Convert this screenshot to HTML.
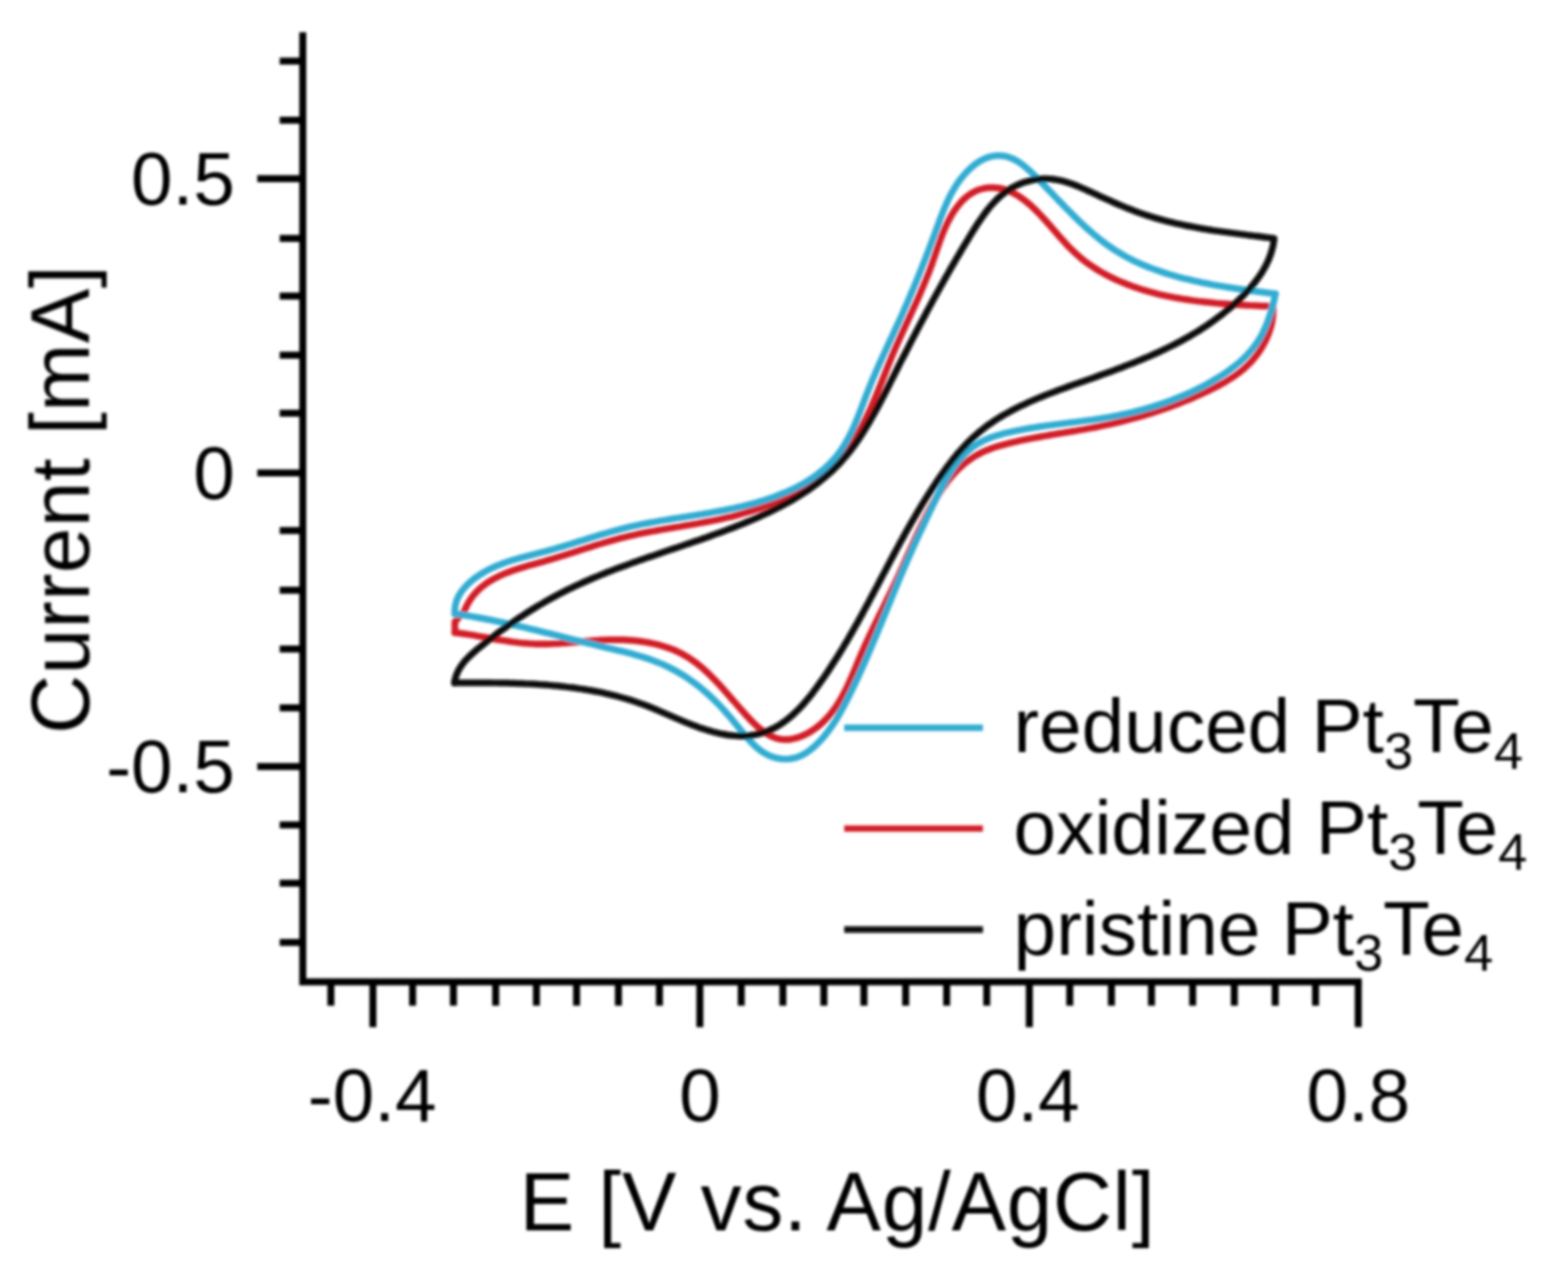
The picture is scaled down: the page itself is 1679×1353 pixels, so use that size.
<!DOCTYPE html>
<html><head><meta charset="utf-8"><title>Cyclic voltammetry Pt3Te4</title>
<style>html,body{margin:0;padding:0;background:#fff;width:1679px;height:1353px;overflow:hidden}svg{display:block}</style>
</head><body>
<svg width="1679" height="1353" viewBox="0 0 1679 1353">
<defs><filter id="bl" filterUnits="userSpaceOnUse" x="0" y="0" width="1679" height="1353"><feGaussianBlur stdDeviation="1.4"/></filter></defs>
<rect width="1679" height="1353" fill="#fff"/>
<g filter="url(#bl)">
<g fill="none" stroke-linejoin="round" stroke-linecap="round" stroke-width="7.2">
<path d="M497.1,654.3 L498.7,650.6 L500.4,647.1 L502.4,643.7 L504.4,640.6 L506.6,637.6 L509.0,634.9 L511.5,632.2 L514.1,629.8 L516.8,627.5 L519.7,625.3 L522.6,623.3 L525.7,621.4 L528.8,619.6 L532.0,617.9 L535.3,616.3 L538.7,614.8 L542.1,613.3 L545.7,612.0 L549.2,610.7 L552.8,609.5 L556.4,608.3 L560.1,607.2 L563.8,606.1 L567.5,605.1 L571.3,604.0 L575.0,603.0 L578.7,601.9 L582.4,600.9 L586.1,599.8 L589.8,598.7 L593.5,597.6 L597.2,596.5 L600.8,595.4 L604.4,594.3 L608.1,593.1 L611.7,592.0 L615.3,590.8 L618.9,589.7 L622.4,588.5 L626.0,587.4 L629.6,586.3 L633.2,585.2 L636.7,584.0 L640.3,582.9 L643.9,581.9 L647.4,580.8 L651.0,579.8 L654.6,578.7 L658.2,577.7 L661.8,576.8 L665.4,575.8 L669.0,574.9 L672.6,574.1 L676.2,573.2 L679.8,572.4 L683.5,571.6 L687.1,570.9 L690.8,570.1 L694.5,569.4 L698.1,568.7 L701.8,568.1 L705.5,567.4 L709.2,566.8 L712.9,566.1 L716.6,565.5 L720.3,564.9 L724.0,564.3 L727.7,563.7 L731.4,563.0 L735.2,562.4 L738.9,561.8 L742.6,561.1 L746.3,560.5 L750.0,559.8 L753.7,559.1 L757.4,558.4 L761.2,557.7 L764.9,557.0 L768.6,556.2 L772.3,555.4 L776.0,554.6 L779.7,553.7 L783.3,552.9 L787.0,551.9 L790.7,551.0 L794.4,549.9 L798.0,548.9 L801.7,547.8 L805.3,546.7 L808.9,545.5 L812.5,544.3 L816.1,543.0 L819.7,541.7 L823.2,540.3 L826.7,538.9 L830.2,537.5 L833.7,536.0 L837.2,534.4 L840.6,532.8 L844.0,531.2 L847.3,529.5 L850.6,527.7 L853.9,525.9 L857.2,524.1 L860.4,522.1 L863.5,520.2 L866.6,518.2 L869.7,516.1 L872.7,514.0 L875.7,511.8 L878.7,509.5 L881.5,507.2 L884.4,504.9 L887.1,502.5 L889.8,500.0 L892.5,497.5 L895.1,494.9 L897.6,492.2 L900.1,489.5 L902.5,486.7 L904.8,483.9 L907.1,481.0 L909.3,478.0 L911.4,475.0 L913.5,471.9 L915.5,468.8 L917.5,465.6 L919.4,462.4 L921.3,459.1 L923.1,455.8 L924.8,452.4 L926.5,449.0 L928.2,445.6 L929.9,442.2 L931.5,438.7 L933.1,435.2 L934.6,431.7 L936.1,428.1 L937.6,424.6 L939.1,421.0 L940.6,417.4 L942.0,413.8 L943.5,410.2 L944.9,406.7 L946.3,403.1 L947.8,399.5 L949.2,395.9 L950.6,392.3 L952.0,388.8 L953.5,385.2 L954.9,381.7 L956.4,378.2 L957.9,374.8 L959.3,371.3 L960.9,367.9 L962.4,364.5 L963.9,361.1 L965.4,357.7 L967.0,354.3 L968.5,351.0 L970.0,347.6 L971.6,344.3 L973.1,340.9 L974.7,337.6 L976.2,334.2 L977.7,330.9 L979.3,327.6 L980.8,324.2 L982.3,320.9 L983.8,317.5 L985.3,314.1 L986.7,310.7 L988.2,307.3 L989.6,303.9 L991.0,300.5 L992.4,297.0 L993.8,293.6 L995.2,290.1 L996.5,286.5 L997.8,283.0 L999.0,279.4 L1000.3,275.8 L1001.5,272.1 L1002.8,268.5 L1004.0,264.9 L1005.3,261.2 L1006.6,257.6 L1007.9,254.0 L1009.3,250.4 L1010.7,246.9 L1012.2,243.4 L1013.8,239.9 L1015.5,236.5 L1017.3,233.2 L1019.1,229.9 L1021.1,226.7 L1023.3,223.6 L1025.5,220.6 L1027.9,217.7 L1030.4,214.9 L1033.1,212.3 L1036.0,209.9 L1038.9,207.8 L1042.1,205.9 L1045.4,204.2 L1048.9,202.9 L1052.5,201.9 L1056.2,201.2 L1060.0,200.9 L1063.7,200.8 L1067.4,201.1 L1071.1,201.6 L1074.6,202.5 L1078.1,203.6 L1081.5,204.9 L1084.8,206.5 L1088.1,208.3 L1091.3,210.3 L1094.4,212.4 L1097.4,214.7 L1100.4,217.1 L1103.3,219.6 L1106.2,222.2 L1108.9,224.9 L1111.7,227.6 L1114.3,230.4 L1116.9,233.2 L1119.5,236.0 L1122.0,238.8 L1124.5,241.7 L1127.0,244.6 L1129.5,247.4 L1132.0,250.3 L1134.4,253.1 L1136.9,255.9 L1139.4,258.7 L1142.0,261.5 L1144.5,264.2 L1147.1,266.8 L1149.8,269.4 L1152.5,271.9 L1155.3,274.4 L1158.1,276.8 L1161.0,279.1 L1164.0,281.3 L1167.0,283.5 L1170.1,285.6 L1173.3,287.6 L1176.4,289.6 L1179.7,291.5 L1182.9,293.3 L1186.3,295.1 L1189.6,296.8 L1193.0,298.4 L1196.4,300.0 L1199.9,301.5 L1203.4,302.9 L1206.9,304.3 L1210.4,305.7 L1213.9,307.0 L1217.5,308.2 L1221.0,309.4 L1224.6,310.5 L1228.2,311.5 L1231.9,312.6 L1235.5,313.5 L1239.1,314.5 L1242.8,315.4 L1246.4,316.2 L1250.1,317.0 L1253.8,317.7 L1257.5,318.5 L1261.2,319.1 L1264.9,319.8 L1268.6,320.4 L1272.4,320.9 L1276.1,321.5 L1279.8,322.0 L1283.6,322.5 L1287.3,322.9 L1291.1,323.3 L1294.9,323.7 L1298.6,324.1 L1302.4,324.5 L1306.1,324.8 L1309.9,325.1 L1313.7,325.4 L1317.4,325.7 L1321.2,325.9 L1324.9,326.2 L1328.7,326.4 L1332.5,326.6 L1336.2,326.8 L1340.0,327.0 L1343.7,327.2 L1347.4,327.4 L1351.2,327.6 L1354.9,327.7 L1358.6,327.9" stroke="#d21e27"/>
<path d="M1362.9,327.5 L1363.2,331.1 L1363.1,334.8 L1362.9,338.5 L1362.4,342.2 L1361.7,346.0 L1360.8,349.8 L1359.6,353.5 L1358.3,357.3 L1356.8,360.9 L1355.2,364.6 L1353.3,368.1 L1351.3,371.6 L1349.2,375.0 L1347.0,378.3 L1344.6,381.4 L1342.1,384.4 L1339.6,387.3 L1336.9,390.1 L1334.1,392.7 L1331.3,395.2 L1328.4,397.6 L1325.4,399.9 L1322.3,402.1 L1319.1,404.3 L1315.9,406.3 L1312.7,408.3 L1309.4,410.2 L1306.1,412.0 L1302.7,413.8 L1299.3,415.6 L1295.9,417.3 L1292.4,419.0 L1288.9,420.6 L1285.4,422.2 L1281.9,423.8 L1278.4,425.3 L1274.9,426.9 L1271.3,428.3 L1267.7,429.8 L1264.2,431.2 L1260.6,432.6 L1256.9,434.0 L1253.3,435.3 L1249.7,436.6 L1246.0,437.9 L1242.4,439.1 L1238.7,440.4 L1235.0,441.6 L1231.3,442.7 L1227.6,443.8 L1223.9,445.0 L1220.2,446.0 L1216.5,447.1 L1212.7,448.1 L1209.0,449.1 L1205.2,450.1 L1201.5,451.0 L1197.7,451.9 L1194.0,452.8 L1190.2,453.7 L1186.4,454.5 L1182.6,455.3 L1178.9,456.1 L1175.1,456.9 L1171.3,457.6 L1167.5,458.3 L1163.8,459.0 L1160.0,459.7 L1156.2,460.3 L1152.4,461.0 L1148.6,461.6 L1144.8,462.3 L1141.1,462.9 L1137.3,463.5 L1133.5,464.1 L1129.7,464.8 L1125.9,465.4 L1122.1,466.1 L1118.3,466.7 L1114.6,467.4 L1110.8,468.1 L1107.0,468.8 L1103.2,469.5 L1099.4,470.2 L1095.6,471.0 L1091.8,471.8 L1088.1,472.7 L1084.3,473.5 L1080.5,474.5 L1076.7,475.4 L1073.0,476.4 L1069.2,477.5 L1065.5,478.7 L1061.9,479.9 L1058.3,481.3 L1054.8,482.7 L1051.3,484.3 L1048.0,486.0 L1044.7,487.8 L1041.5,489.8 L1038.4,491.9 L1035.4,494.2 L1032.4,496.5 L1029.6,499.0 L1026.8,501.5 L1024.1,504.2 L1021.5,507.0 L1019.0,509.9 L1016.5,512.8 L1014.1,515.9 L1011.8,519.0 L1009.5,522.1 L1007.3,525.4 L1005.1,528.7 L1003.0,532.0 L1001.0,535.4 L999.0,538.8 L997.0,542.3 L995.1,545.7 L993.3,549.2 L991.4,552.7 L989.7,556.3 L987.9,559.8 L986.2,563.3 L984.5,566.8 L982.8,570.3 L981.2,573.8 L979.6,577.3 L978.0,580.8 L976.4,584.4 L974.8,587.9 L973.3,591.3 L971.7,594.8 L970.1,598.3 L968.6,601.8 L967.0,605.3 L965.5,608.8 L963.9,612.2 L962.4,615.7 L960.8,619.1 L959.2,622.6 L957.5,626.0 L955.9,629.5 L954.3,632.9 L952.6,636.3 L950.9,639.8 L949.2,643.2 L947.6,646.6 L945.9,650.1 L944.2,653.5 L942.5,656.9 L940.8,660.4 L939.1,663.8 L937.4,667.3 L935.7,670.8 L934.0,674.3 L932.4,677.7 L930.7,681.2 L929.1,684.8 L927.4,688.3 L925.8,691.8 L924.3,695.4 L922.7,699.0 L921.2,702.6 L919.6,706.2 L918.1,709.8 L916.6,713.5 L915.1,717.1 L913.6,720.7 L912.0,724.3 L910.5,727.9 L908.8,731.5 L907.2,735.0 L905.5,738.5 L903.7,742.0 L901.9,745.4 L900.0,748.7 L898.0,752.0 L895.9,755.3 L893.8,758.4 L891.5,761.5 L889.1,764.5 L886.6,767.4 L883.9,770.2 L881.2,773.0 L878.3,775.6 L875.2,778.1 L872.0,780.4 L868.7,782.6 L865.4,784.6 L862.0,786.4 L858.5,787.9 L854.9,789.3 L851.4,790.3 L847.8,791.1 L844.3,791.6 L840.8,791.7 L837.3,791.5 L833.8,790.9 L830.5,790.0 L827.2,788.7 L823.9,787.1 L820.8,785.2 L817.7,783.1 L814.6,780.7 L811.6,778.2 L808.6,775.5 L805.7,772.7 L802.9,769.7 L800.1,766.7 L797.3,763.7 L794.6,760.6 L791.9,757.6 L789.2,754.5 L786.6,751.5 L783.9,748.5 L781.3,745.5 L778.8,742.5 L776.2,739.6 L773.6,736.6 L771.0,733.8 L768.4,730.9 L765.8,728.2 L763.1,725.4 L760.4,722.7 L757.7,720.1 L755.0,717.6 L752.2,715.1 L749.3,712.7 L746.4,710.4 L743.5,708.2 L740.5,706.1 L737.4,704.0 L734.2,702.1 L731.0,700.3 L727.6,698.5 L724.2,696.9 L720.7,695.4 L717.1,694.0 L713.5,692.8 L709.8,691.6 L706.0,690.5 L702.2,689.5 L698.4,688.7 L694.5,687.9 L690.6,687.2 L686.7,686.6 L682.7,686.1 L678.8,685.7 L674.8,685.3 L670.9,685.1 L667.0,684.9 L663.1,684.8 L659.2,684.8 L655.3,684.8 L651.4,684.9 L647.6,685.1 L643.7,685.2 L639.9,685.5 L636.1,685.7 L632.3,686.0 L628.4,686.3 L624.6,686.7 L620.8,687.0 L617.1,687.3 L613.3,687.6 L609.5,688.0 L605.7,688.3 L601.9,688.5 L598.1,688.8 L594.3,689.0 L590.5,689.2 L586.7,689.3 L582.9,689.4 L579.1,689.4 L575.2,689.3 L571.4,689.2 L567.6,689.0 L563.7,688.7 L559.9,688.4 L556.0,688.0 L552.1,687.5 L548.2,687.0 L544.4,686.4 L540.5,685.8 L536.6,685.2 L532.7,684.6 L528.9,683.9 L525.0,683.2 L521.2,682.5 L517.3,681.8 L513.5,681.2 L509.7,680.5 L505.9,679.8 L502.1,679.2 L498.3,678.6 L494.5,678.1 L490.8,677.6 L487.1,677.1" stroke="#d21e27"/>
<path d="M487.1,677.1 L487.1,665.7 L497.1,654.3" stroke="#d21e27"/>
<path d="M487.1,657.1 L487.0,653.0 L487.4,649.1 L488.2,645.4 L489.4,641.7 L491.0,638.2 L493.0,634.9 L495.2,631.7 L497.7,628.7 L500.5,625.8 L503.4,623.0 L506.5,620.4 L509.7,618.0 L513.1,615.7 L516.4,613.6 L519.8,611.6 L523.3,609.7 L526.8,608.0 L530.4,606.4 L534.0,604.9 L537.6,603.5 L541.3,602.2 L545.0,600.9 L548.7,599.7 L552.4,598.6 L556.2,597.5 L560.0,596.5 L563.8,595.5 L567.6,594.5 L571.4,593.5 L575.2,592.6 L579.0,591.6 L582.9,590.6 L586.7,589.5 L590.5,588.5 L594.3,587.4 L598.1,586.3 L601.9,585.2 L605.7,584.0 L609.5,582.9 L613.3,581.7 L617.1,580.5 L620.9,579.3 L624.7,578.2 L628.5,577.0 L632.3,575.8 L636.0,574.6 L639.8,573.5 L643.6,572.3 L647.4,571.2 L651.2,570.1 L655.0,569.0 L658.8,568.0 L662.6,567.0 L666.4,566.0 L670.2,565.0 L674.0,564.1 L677.8,563.3 L681.7,562.4 L685.5,561.6 L689.3,560.8 L693.2,560.1 L697.0,559.4 L700.8,558.7 L704.7,558.0 L708.5,557.3 L712.4,556.7 L716.2,556.1 L720.1,555.4 L724.0,554.8 L727.8,554.2 L731.7,553.6 L735.6,553.0 L739.4,552.4 L743.3,551.8 L747.2,551.1 L751.1,550.5 L754.9,549.9 L758.8,549.2 L762.7,548.5 L766.6,547.8 L770.5,547.1 L774.4,546.4 L778.3,545.6 L782.2,544.8 L786.1,544.0 L790.0,543.1 L793.9,542.2 L797.8,541.2 L801.7,540.3 L805.5,539.2 L809.4,538.2 L813.3,537.0 L817.1,535.9 L820.9,534.7 L824.7,533.4 L828.5,532.1 L832.2,530.7 L835.9,529.2 L839.6,527.7 L843.2,526.2 L846.8,524.5 L850.3,522.9 L853.8,521.1 L857.3,519.3 L860.7,517.4 L864.0,515.4 L867.2,513.3 L870.4,511.2 L873.6,509.0 L876.6,506.7 L879.6,504.3 L882.5,501.9 L885.3,499.3 L888.1,496.7 L890.7,494.0 L893.3,491.2 L895.8,488.2 L898.1,485.2 L900.4,482.1 L902.6,478.9 L904.6,475.6 L906.6,472.2 L908.5,468.8 L910.3,465.2 L912.1,461.6 L913.8,457.9 L915.4,454.2 L917.0,450.5 L918.5,446.7 L920.0,442.9 L921.5,439.1 L923.0,435.2 L924.4,431.4 L925.9,427.6 L927.3,423.8 L928.8,420.0 L930.3,416.3 L931.8,412.5 L933.3,408.9 L934.8,405.2 L936.4,401.6 L937.9,398.0 L939.5,394.4 L941.1,390.8 L942.7,387.2 L944.3,383.7 L945.9,380.2 L947.5,376.6 L949.2,373.1 L950.8,369.6 L952.4,366.1 L954.0,362.6 L955.7,359.1 L957.3,355.6 L958.9,352.1 L960.5,348.6 L962.2,345.1 L963.8,341.5 L965.4,338.0 L967.0,334.4 L968.5,330.8 L970.1,327.2 L971.7,323.6 L973.2,320.0 L974.8,316.4 L976.3,312.7 L977.9,309.1 L979.4,305.4 L980.9,301.8 L982.4,298.1 L983.9,294.4 L985.4,290.7 L986.9,287.0 L988.3,283.3 L989.8,279.6 L991.2,275.9 L992.7,272.2 L994.1,268.5 L995.5,264.8 L996.9,261.0 L998.3,257.3 L999.7,253.6 L1001.1,249.9 L1002.4,246.1 L1003.8,242.4 L1005.2,238.7 L1006.5,235.0 L1007.9,231.3 L1009.4,227.7 L1010.8,224.0 L1012.4,220.4 L1013.9,216.9 L1015.6,213.3 L1017.3,209.8 L1019.1,206.4 L1021.1,203.0 L1023.1,199.7 L1025.2,196.4 L1027.5,193.2 L1029.9,190.0 L1032.5,187.0 L1035.2,184.0 L1038.1,181.1 L1041.1,178.4 L1044.3,175.8 L1047.6,173.5 L1051.0,171.4 L1054.6,169.7 L1058.4,168.3 L1062.2,167.3 L1066.1,166.7 L1069.9,166.5 L1073.7,166.8 L1077.3,167.4 L1080.8,168.5 L1084.2,169.8 L1087.5,171.5 L1090.8,173.4 L1093.9,175.6 L1097.0,178.0 L1100.0,180.6 L1103.0,183.2 L1105.9,186.0 L1108.8,188.9 L1111.7,191.8 L1114.5,194.7 L1117.3,197.6 L1120.1,200.5 L1122.9,203.4 L1125.7,206.3 L1128.5,209.2 L1131.2,212.1 L1134.0,215.0 L1136.8,217.8 L1139.5,220.7 L1142.3,223.5 L1145.1,226.3 L1147.8,229.1 L1150.6,231.9 L1153.4,234.6 L1156.2,237.4 L1159.1,240.0 L1161.9,242.7 L1164.8,245.3 L1167.7,247.8 L1170.7,250.4 L1173.6,252.8 L1176.6,255.3 L1179.6,257.7 L1182.7,260.0 L1185.8,262.3 L1189.0,264.5 L1192.1,266.6 L1195.4,268.7 L1198.7,270.7 L1202.0,272.7 L1205.4,274.6 L1208.8,276.4 L1212.3,278.2 L1215.8,279.9 L1219.3,281.5 L1222.9,283.1 L1226.6,284.6 L1230.2,286.1 L1233.9,287.5 L1237.7,288.9 L1241.4,290.2 L1245.2,291.5 L1249.0,292.7 L1252.8,293.9 L1256.7,295.0 L1260.5,296.1 L1264.4,297.2 L1268.3,298.2 L1272.3,299.1 L1276.2,300.1 L1280.1,301.0 L1284.1,301.8 L1288.0,302.7 L1292.0,303.4 L1296.0,304.2 L1299.9,305.0 L1303.9,305.7 L1307.8,306.3 L1311.8,307.0 L1315.7,307.6 L1319.7,308.3 L1323.6,308.9 L1327.5,309.4 L1331.5,310.0 L1335.3,310.5 L1339.2,311.1 L1343.1,311.6 L1346.9,312.1 L1350.7,312.6 L1354.5,313.1 L1358.3,313.6 L1362.0,314.0 L1365.7,314.5" stroke="#33acd2"/>
<path d="M1365.7,314.5 L1364.9,318.2 L1364.1,322.0 L1363.1,325.8 L1362.1,329.7 L1361.0,333.6 L1359.7,337.6 L1358.4,341.4 L1357.0,345.3 L1355.4,349.1 L1353.8,352.9 L1352.0,356.6 L1350.1,360.1 L1348.1,363.6 L1345.9,366.9 L1343.6,370.1 L1341.2,373.2 L1338.7,376.2 L1336.1,379.1 L1333.5,381.9 L1330.7,384.6 L1327.8,387.2 L1324.8,389.7 L1321.8,392.2 L1318.7,394.5 L1315.6,396.8 L1312.4,399.1 L1309.1,401.2 L1305.8,403.3 L1302.4,405.4 L1299.1,407.4 L1295.6,409.4 L1292.2,411.3 L1288.7,413.2 L1285.2,415.0 L1281.6,416.8 L1278.0,418.5 L1274.4,420.2 L1270.8,421.8 L1267.1,423.4 L1263.4,424.9 L1259.7,426.4 L1256.0,427.9 L1252.2,429.3 L1248.5,430.6 L1244.7,432.0 L1240.9,433.2 L1237.0,434.5 L1233.2,435.7 L1229.4,436.8 L1225.5,437.9 L1221.6,439.0 L1217.7,440.0 L1213.9,441.0 L1210.0,441.9 L1206.1,442.8 L1202.2,443.6 L1198.3,444.5 L1194.3,445.2 L1190.4,446.0 L1186.5,446.7 L1182.6,447.3 L1178.7,448.0 L1174.8,448.6 L1170.9,449.2 L1167.0,449.7 L1163.1,450.2 L1159.2,450.8 L1155.3,451.3 L1151.4,451.8 L1147.5,452.2 L1143.6,452.7 L1139.7,453.2 L1135.8,453.7 L1131.9,454.2 L1128.0,454.7 L1124.1,455.2 L1120.2,455.7 L1116.3,456.3 L1112.3,456.9 L1108.4,457.5 L1104.5,458.1 L1100.6,458.8 L1096.6,459.5 L1092.7,460.2 L1088.8,461.0 L1084.8,461.8 L1080.9,462.7 L1076.9,463.6 L1073.0,464.6 L1069.1,465.7 L1065.3,466.9 L1061.5,468.2 L1057.8,469.7 L1054.2,471.2 L1050.7,472.9 L1047.4,474.8 L1044.1,476.9 L1041.0,479.1 L1038.0,481.5 L1035.1,484.0 L1032.4,486.7 L1029.7,489.5 L1027.1,492.4 L1024.7,495.5 L1022.3,498.7 L1020.0,501.9 L1017.8,505.3 L1015.7,508.7 L1013.6,512.2 L1011.6,515.7 L1009.6,519.3 L1007.7,522.9 L1005.8,526.6 L1004.0,530.3 L1002.2,534.0 L1000.4,537.7 L998.6,541.3 L996.9,545.0 L995.1,548.6 L993.4,552.3 L991.7,555.9 L990.0,559.5 L988.3,563.1 L986.6,566.7 L984.9,570.3 L983.3,573.8 L981.6,577.4 L980.0,581.0 L978.4,584.5 L976.8,588.1 L975.2,591.7 L973.6,595.3 L972.0,598.9 L970.4,602.5 L968.9,606.1 L967.3,609.7 L965.8,613.3 L964.2,616.9 L962.7,620.5 L961.2,624.2 L959.7,627.8 L958.2,631.4 L956.7,635.1 L955.2,638.7 L953.7,642.4 L952.2,646.1 L950.7,649.7 L949.2,653.4 L947.7,657.0 L946.2,660.7 L944.7,664.4 L943.2,668.1 L941.6,671.7 L940.1,675.4 L938.6,679.1 L937.1,682.7 L935.5,686.4 L934.0,690.1 L932.4,693.7 L930.9,697.4 L929.3,701.1 L927.7,704.7 L926.1,708.4 L924.5,712.0 L922.9,715.7 L921.2,719.3 L919.6,723.0 L917.9,726.6 L916.2,730.2 L914.5,733.8 L912.8,737.5 L911.0,741.1 L909.2,744.7 L907.4,748.3 L905.6,751.8 L903.8,755.4 L901.9,758.9 L899.9,762.4 L897.9,765.9 L895.9,769.4 L893.7,772.7 L891.5,776.1 L889.2,779.4 L886.9,782.6 L884.4,785.8 L881.9,788.9 L879.2,791.9 L876.4,794.9 L873.5,797.7 L870.5,800.4 L867.4,802.9 L864.2,805.2 L860.9,807.3 L857.5,809.0 L854.0,810.4 L850.3,811.4 L846.7,812.1 L843.0,812.5 L839.3,812.5 L835.6,812.1 L831.9,811.5 L828.3,810.5 L824.8,809.3 L821.4,807.7 L818.1,805.9 L815.0,803.8 L811.9,801.4 L809.0,798.9 L806.1,796.1 L803.2,793.2 L800.5,790.2 L797.8,787.1 L795.1,783.9 L792.4,780.6 L789.8,777.3 L787.1,774.1 L784.4,770.8 L781.8,767.6 L779.0,764.5 L776.3,761.4 L773.6,758.4 L770.8,755.4 L768.0,752.5 L765.1,749.7 L762.2,746.9 L759.3,744.2 L756.4,741.5 L753.4,739.0 L750.4,736.4 L747.4,734.0 L744.3,731.6 L741.1,729.3 L738.0,727.1 L734.8,724.9 L731.5,722.8 L728.2,720.8 L724.9,718.8 L721.5,717.0 L718.1,715.2 L714.6,713.5 L711.1,711.8 L707.5,710.3 L703.9,708.8 L700.2,707.4 L696.5,706.0 L692.8,704.7 L689.0,703.5 L685.2,702.4 L681.3,701.2 L677.5,700.1 L673.6,699.1 L669.7,698.1 L665.7,697.1 L661.8,696.2 L657.9,695.2 L653.9,694.3 L650.0,693.4 L646.0,692.4 L642.1,691.5 L638.2,690.6 L634.3,689.6 L630.4,688.7 L626.5,687.8 L622.6,686.8 L618.7,685.8 L614.9,684.9 L611.0,683.9 L607.2,683.0 L603.3,682.0 L599.5,681.0 L595.7,680.1 L591.8,679.1 L588.0,678.1 L584.2,677.2 L580.4,676.2 L576.5,675.3 L572.7,674.3 L568.9,673.4 L565.1,672.5 L561.2,671.6 L557.4,670.7 L553.6,669.8 L549.7,668.9 L545.9,668.0 L542.0,667.2 L538.2,666.3 L534.3,665.5 L530.4,664.7 L526.5,663.9 L522.7,663.1 L518.8,662.4 L514.8,661.6 L510.9,660.9 L507.0,660.2 L503.0,659.5 L499.1,658.9 L495.1,658.3 L491.1,657.7 L487.1,657.1" stroke="#33acd2"/>
<path d="M486.6,730.9 L487.3,727.0 L488.4,723.4 L489.8,719.9 L491.4,716.7 L493.3,713.6 L495.4,710.6 L497.6,707.8 L500.1,705.1 L502.7,702.5 L505.4,700.0 L508.2,697.5 L511.0,695.1 L513.9,692.7 L516.8,690.4 L519.8,688.0 L522.7,685.6 L525.7,683.3 L528.7,681.0 L531.7,678.7 L534.7,676.4 L537.7,674.2 L540.8,672.0 L543.9,669.7 L547.0,667.6 L550.1,665.4 L553.2,663.2 L556.4,661.1 L559.6,659.0 L562.7,656.9 L565.9,654.9 L569.1,652.9 L572.4,650.9 L575.6,648.9 L578.9,647.0 L582.1,645.1 L585.4,643.2 L588.7,641.3 L592.0,639.5 L595.4,637.7 L598.7,635.9 L602.0,634.2 L605.4,632.5 L608.8,630.8 L612.2,629.2 L615.6,627.6 L619.0,626.0 L622.4,624.4 L625.8,622.9 L629.2,621.4 L632.7,619.9 L636.1,618.4 L639.6,617.0 L643.1,615.5 L646.6,614.1 L650.0,612.7 L653.5,611.4 L657.0,610.0 L660.5,608.7 L664.0,607.4 L667.6,606.1 L671.1,604.8 L674.6,603.5 L678.2,602.2 L681.7,601.0 L685.2,599.7 L688.8,598.5 L692.3,597.2 L695.9,596.0 L699.5,594.8 L703.0,593.6 L706.6,592.3 L710.1,591.1 L713.7,589.9 L717.3,588.7 L720.8,587.5 L724.4,586.3 L728.0,585.1 L731.6,583.9 L735.1,582.7 L738.7,581.5 L742.3,580.2 L745.8,579.0 L749.4,577.8 L753.0,576.5 L756.5,575.3 L760.1,574.0 L763.6,572.7 L767.2,571.4 L770.8,570.1 L774.3,568.8 L777.8,567.5 L781.4,566.1 L784.9,564.8 L788.4,563.4 L792.0,562.0 L795.5,560.6 L799.0,559.1 L802.5,557.7 L806.0,556.2 L809.5,554.7 L812.9,553.2 L816.4,551.6 L819.8,550.0 L823.2,548.4 L826.6,546.8 L830.0,545.1 L833.4,543.4 L836.7,541.7 L840.0,539.9 L843.3,538.1 L846.6,536.3 L849.8,534.4 L853.0,532.5 L856.2,530.5 L859.3,528.5 L862.4,526.5 L865.5,524.4 L868.5,522.3 L871.5,520.1 L874.5,517.9 L877.4,515.6 L880.3,513.3 L883.1,511.0 L885.9,508.6 L888.7,506.1 L891.4,503.6 L894.0,501.0 L896.6,498.4 L899.2,495.7 L901.7,493.0 L904.1,490.2 L906.5,487.4 L908.9,484.5 L911.2,481.5 L913.4,478.5 L915.7,475.5 L917.8,472.4 L920.0,469.3 L922.1,466.1 L924.1,462.9 L926.1,459.7 L928.1,456.4 L930.1,453.1 L932.0,449.8 L933.9,446.5 L935.8,443.1 L937.7,439.8 L939.5,436.4 L941.3,433.0 L943.1,429.5 L944.9,426.1 L946.7,422.7 L948.4,419.3 L950.2,415.8 L951.9,412.4 L953.6,409.0 L955.3,405.5 L957.1,402.1 L958.8,398.7 L960.5,395.3 L962.2,391.9 L963.9,388.5 L965.6,385.2 L967.4,381.8 L969.1,378.5 L970.8,375.1 L972.5,371.8 L974.2,368.4 L975.9,365.1 L977.6,361.8 L979.4,358.5 L981.1,355.2 L982.8,351.9 L984.5,348.6 L986.3,345.3 L988.0,342.0 L989.8,338.7 L991.5,335.5 L993.2,332.2 L995.0,328.9 L996.8,325.7 L998.5,322.4 L1000.3,319.1 L1002.1,315.9 L1003.9,312.6 L1005.7,309.4 L1007.5,306.1 L1009.3,302.9 L1011.1,299.6 L1013.0,296.4 L1014.8,293.1 L1016.6,289.9 L1018.5,286.7 L1020.4,283.4 L1022.3,280.2 L1024.1,276.9 L1026.1,273.7 L1028.0,270.4 L1029.9,267.2 L1031.8,263.9 L1033.8,260.6 L1035.8,257.4 L1037.7,254.1 L1039.7,250.9 L1041.7,247.6 L1043.8,244.3 L1045.8,241.1 L1047.9,237.9 L1050.1,234.7 L1052.3,231.6 L1054.5,228.5 L1056.8,225.5 L1059.1,222.5 L1061.6,219.6 L1064.1,216.9 L1066.7,214.2 L1069.3,211.6 L1072.1,209.2 L1075.0,206.8 L1077.9,204.6 L1081.0,202.6 L1084.2,200.7 L1087.6,198.9 L1091.0,197.3 L1094.5,195.9 L1098.2,194.7 L1101.8,193.7 L1105.6,192.8 L1109.3,192.2 L1113.1,191.7 L1116.9,191.4 L1120.7,191.4 L1124.4,191.5 L1128.1,191.9 L1131.8,192.5 L1135.5,193.2 L1139.1,194.1 L1142.7,195.2 L1146.2,196.4 L1149.7,197.7 L1153.3,199.0 L1156.8,200.5 L1160.2,202.0 L1163.7,203.6 L1167.2,205.1 L1170.6,206.7 L1174.1,208.3 L1177.5,209.9 L1180.9,211.5 L1184.4,213.0 L1187.8,214.5 L1191.2,216.1 L1194.7,217.6 L1198.1,219.1 L1201.5,220.5 L1205.0,222.0 L1208.5,223.4 L1211.9,224.7 L1215.4,226.1 L1218.9,227.4 L1222.4,228.6 L1226.0,229.8 L1229.5,231.0 L1233.1,232.1 L1236.7,233.2 L1240.3,234.3 L1243.9,235.3 L1247.5,236.3 L1251.2,237.2 L1254.8,238.1 L1258.5,239.0 L1262.2,239.8 L1265.9,240.6 L1269.6,241.4 L1273.3,242.1 L1277.0,242.8 L1280.7,243.5 L1284.5,244.2 L1288.2,244.9 L1292.0,245.5 L1295.7,246.1 L1299.5,246.7 L1303.2,247.2 L1307.0,247.8 L1310.7,248.3 L1314.5,248.8 L1318.2,249.3 L1322.0,249.8 L1325.7,250.3 L1329.5,250.8 L1333.2,251.3 L1337.0,251.8 L1340.7,252.2 L1344.4,252.7 L1348.1,253.1 L1351.8,253.6 L1355.5,254.1 L1359.2,254.5 L1362.9,255.0" stroke="#0a0a0a"/>
<path d="M1364.3,255.5 L1363.8,259.2 L1363.2,262.9 L1362.3,266.5 L1361.3,270.0 L1360.1,273.5 L1358.8,277.0 L1357.3,280.4 L1355.7,283.7 L1353.9,287.0 L1352.0,290.3 L1350.0,293.5 L1347.9,296.6 L1345.6,299.7 L1343.3,302.7 L1340.9,305.7 L1338.4,308.6 L1335.8,311.5 L1333.2,314.3 L1330.5,317.1 L1327.7,319.8 L1324.9,322.5 L1322.1,325.1 L1319.2,327.7 L1316.3,330.2 L1313.4,332.6 L1310.4,335.0 L1307.5,337.4 L1304.4,339.7 L1301.4,341.9 L1298.4,344.1 L1295.3,346.3 L1292.2,348.4 L1289.0,350.5 L1285.9,352.6 L1282.7,354.6 L1279.5,356.5 L1276.3,358.4 L1273.1,360.3 L1269.8,362.2 L1266.5,364.0 L1263.2,365.8 L1259.9,367.5 L1256.6,369.2 L1253.2,370.9 L1249.8,372.6 L1246.4,374.2 L1243.0,375.8 L1239.6,377.4 L1236.2,378.9 L1232.7,380.5 L1229.3,382.0 L1225.8,383.4 L1222.3,384.9 L1218.8,386.3 L1215.3,387.8 L1211.8,389.2 L1208.3,390.5 L1204.7,391.9 L1201.2,393.3 L1197.6,394.6 L1194.0,396.0 L1190.5,397.3 L1186.9,398.6 L1183.3,399.9 L1179.7,401.2 L1176.1,402.5 L1172.5,403.8 L1168.9,405.1 L1165.3,406.3 L1161.7,407.6 L1158.1,408.9 L1154.5,410.2 L1150.8,411.4 L1147.2,412.7 L1143.6,414.0 L1140.0,415.3 L1136.4,416.6 L1132.8,417.9 L1129.3,419.3 L1125.7,420.6 L1122.1,422.0 L1118.6,423.4 L1115.1,424.8 L1111.5,426.3 L1108.1,427.8 L1104.6,429.3 L1101.1,430.8 L1097.7,432.4 L1094.3,434.0 L1090.9,435.6 L1087.6,437.3 L1084.2,439.0 L1080.9,440.8 L1077.7,442.6 L1074.4,444.4 L1071.2,446.4 L1068.1,448.3 L1065.0,450.3 L1061.9,452.4 L1058.8,454.5 L1055.8,456.7 L1052.9,459.0 L1049.9,461.3 L1047.1,463.7 L1044.3,466.2 L1041.5,468.7 L1038.8,471.3 L1036.1,473.9 L1033.5,476.7 L1030.9,479.4 L1028.3,482.3 L1025.8,485.1 L1023.4,488.1 L1020.9,491.0 L1018.5,494.1 L1016.2,497.1 L1013.9,500.2 L1011.6,503.3 L1009.3,506.5 L1007.1,509.6 L1004.9,512.8 L1002.7,516.0 L1000.6,519.2 L998.5,522.4 L996.4,525.7 L994.3,528.9 L992.3,532.1 L990.2,535.4 L988.2,538.6 L986.2,541.9 L984.3,545.2 L982.3,548.4 L980.4,551.7 L978.5,555.0 L976.5,558.3 L974.7,561.5 L972.8,564.8 L970.9,568.1 L969.1,571.4 L967.3,574.7 L965.5,578.0 L963.6,581.3 L961.9,584.6 L960.1,587.9 L958.3,591.2 L956.5,594.5 L954.8,597.8 L953.0,601.1 L951.3,604.5 L949.5,607.8 L947.8,611.1 L946.0,614.4 L944.3,617.7 L942.5,621.0 L940.8,624.3 L939.1,627.6 L937.3,630.9 L935.6,634.2 L933.8,637.5 L932.0,640.9 L930.3,644.2 L928.5,647.5 L926.7,650.8 L924.9,654.1 L923.2,657.4 L921.3,660.7 L919.5,664.0 L917.7,667.3 L915.8,670.5 L914.0,673.8 L912.1,677.1 L910.2,680.4 L908.3,683.7 L906.4,687.0 L904.4,690.2 L902.5,693.5 L900.5,696.8 L898.5,700.0 L896.5,703.3 L894.4,706.5 L892.3,709.8 L890.2,713.0 L888.1,716.3 L886.0,719.5 L883.8,722.7 L881.6,726.0 L879.3,729.2 L877.0,732.4 L874.7,735.6 L872.4,738.7 L870.0,741.9 L867.6,744.9 L865.1,748.0 L862.6,750.9 L860.1,753.9 L857.5,756.7 L854.8,759.5 L852.1,762.1 L849.4,764.7 L846.5,767.2 L843.7,769.6 L840.7,771.8 L837.7,774.0 L834.7,776.0 L831.6,777.8 L828.4,779.6 L825.1,781.1 L821.8,782.5 L818.4,783.8 L814.9,784.9 L811.4,785.8 L807.9,786.6 L804.3,787.1 L800.7,787.5 L797.0,787.8 L793.4,787.8 L789.7,787.7 L786.0,787.5 L782.3,787.1 L778.5,786.6 L774.8,785.9 L771.0,785.2 L767.3,784.3 L763.6,783.4 L759.9,782.3 L756.2,781.2 L752.5,780.0 L748.8,778.8 L745.2,777.4 L741.6,776.1 L738.0,774.7 L734.4,773.2 L730.9,771.8 L727.4,770.3 L723.8,768.8 L720.3,767.3 L716.8,765.7 L713.3,764.2 L709.9,762.7 L706.4,761.2 L702.9,759.7 L699.4,758.3 L695.9,756.8 L692.4,755.4 L688.8,754.1 L685.3,752.8 L681.7,751.6 L678.1,750.4 L674.6,749.2 L670.9,748.1 L667.3,747.1 L663.7,746.1 L660.1,745.1 L656.4,744.2 L652.7,743.3 L649.0,742.4 L645.4,741.6 L641.7,740.8 L637.9,740.1 L634.2,739.4 L630.5,738.7 L626.8,738.1 L623.0,737.5 L619.3,737.0 L615.5,736.4 L611.7,735.9 L608.0,735.5 L604.2,735.0 L600.4,734.6 L596.6,734.2 L592.8,733.9 L589.0,733.5 L585.2,733.2 L581.4,732.9 L577.6,732.7 L573.8,732.4 L570.0,732.2 L566.2,732.0 L562.3,731.9 L558.5,731.7 L554.7,731.6 L550.9,731.4 L547.1,731.3 L543.3,731.2 L539.5,731.1 L535.7,731.1 L531.9,731.0 L528.1,731.0 L524.3,730.9 L520.5,730.9 L516.7,730.9 L512.9,730.9 L509.1,730.9 L505.4,730.9 L501.6,730.9 L497.8,730.9 L494.1,730.9 L490.3,730.9 L486.6,730.9" stroke="#0a0a0a"/>
</g>
<g stroke="#000" stroke-width="7.5" stroke-linecap="butt">
<path d="M324.2,34.5 L324.2,1051.1 L1458.15,1051.1" fill="none" stroke-linejoin="miter"/>
<line x1="299.5" y1="65.4" x2="324.2" y2="65.4"/><line x1="299.5" y1="128.7" x2="324.2" y2="128.7"/><line x1="275.5" y1="191.3" x2="324.2" y2="191.3"/><line x1="299.5" y1="255.2" x2="324.2" y2="255.2"/><line x1="299.5" y1="316.9" x2="324.2" y2="316.9"/><line x1="299.5" y1="380.2" x2="324.2" y2="380.2"/><line x1="299.5" y1="442.3" x2="324.2" y2="442.3"/><line x1="275.5" y1="506.2" x2="324.2" y2="506.2"/><line x1="299.5" y1="567.9" x2="324.2" y2="567.9"/><line x1="299.5" y1="631.8" x2="324.2" y2="631.8"/><line x1="299.5" y1="694.7" x2="324.2" y2="694.7"/><line x1="299.5" y1="757.7" x2="324.2" y2="757.7"/><line x1="275.5" y1="820.5" x2="324.2" y2="820.5"/><line x1="299.5" y1="883.0" x2="324.2" y2="883.0"/><line x1="299.5" y1="945.4" x2="324.2" y2="945.4"/><line x1="299.5" y1="1008.8" x2="324.2" y2="1008.8"/><line x1="354.3" y1="1051.1" x2="354.3" y2="1076.5"/><line x1="399.3" y1="1051.1" x2="399.3" y2="1099.5"/><line x1="441.8" y1="1051.1" x2="441.8" y2="1076.5"/><line x1="485.5" y1="1051.1" x2="485.5" y2="1076.5"/><line x1="530.8" y1="1051.1" x2="530.8" y2="1076.5"/><line x1="574.4" y1="1051.1" x2="574.4" y2="1076.5"/><line x1="617.4" y1="1051.1" x2="617.4" y2="1076.5"/><line x1="662.2" y1="1051.1" x2="662.2" y2="1076.5"/><line x1="706.1" y1="1051.1" x2="706.1" y2="1076.5"/><line x1="749.4" y1="1051.1" x2="749.4" y2="1099.5"/><line x1="793.7" y1="1051.1" x2="793.7" y2="1076.5"/><line x1="838.3" y1="1051.1" x2="838.3" y2="1076.5"/><line x1="882.2" y1="1051.1" x2="882.2" y2="1076.5"/><line x1="925.1" y1="1051.1" x2="925.1" y2="1076.5"/><line x1="969.8" y1="1051.1" x2="969.8" y2="1076.5"/><line x1="1013.7" y1="1051.1" x2="1013.7" y2="1076.5"/><line x1="1056.6" y1="1051.1" x2="1056.6" y2="1076.5"/><line x1="1102.2" y1="1051.1" x2="1102.2" y2="1099.5"/><line x1="1145.5" y1="1051.1" x2="1145.5" y2="1076.5"/><line x1="1190.1" y1="1051.1" x2="1190.1" y2="1076.5"/><line x1="1233.0" y1="1051.1" x2="1233.0" y2="1076.5"/><line x1="1277.1" y1="1051.1" x2="1277.1" y2="1076.5"/><line x1="1321.7" y1="1051.1" x2="1321.7" y2="1076.5"/><line x1="1365.5" y1="1051.1" x2="1365.5" y2="1076.5"/><line x1="1408.7" y1="1051.1" x2="1408.7" y2="1076.5"/><line x1="1454.4" y1="1051.1" x2="1454.4" y2="1099.5"/>
</g>
<g stroke-width="6.8" stroke-linecap="butt">
<line x1="904" y1="779" x2="1052.5" y2="779" stroke="#33acd2"/>
<line x1="904" y1="886.8" x2="1052.5" y2="886.8" stroke="#d21e27"/>
<line x1="904" y1="995" x2="1052.5" y2="995" stroke="#0a0a0a"/>
</g>
<g font-family="'Liberation Sans', Arial, Helvetica, sans-serif" fill="#050505">
<g font-size="80" text-anchor="end">
<text x="251.5" y="219">0.5</text>
<text x="251.5" y="534">0</text>
<text x="251.5" y="848">-0.5</text>
</g>
<g font-size="80" text-anchor="middle">
<text x="398.5" y="1199.8">-0.4</text>
<text x="749.5" y="1199.8">0</text>
<text x="1100.5" y="1199.8">0.4</text>
<text x="1454.5" y="1199.8">0.8</text>
</g>
<text transform="translate(556.5,1317) scale(1,1.015)" font-size="87.5" letter-spacing="0.85">E [V vs. Ag/AgCl]</text>
<text transform="translate(95.4,785.5) rotate(-90) scale(1,1.015)" font-size="87.5" letter-spacing="0.5">Current [mA]</text>
<g font-size="82">
<text transform="translate(1085.3,805) scale(1,1.0)">reduced Pt<tspan font-size="56" dy="17.5">3</tspan><tspan dy="-17.5">Te</tspan><tspan font-size="56" dy="17.5">4</tspan></text>
<text transform="translate(1085.3,913.5) scale(1,1.0)">oxidized Pt<tspan font-size="56" dy="17.5">3</tspan><tspan dy="-17.5">Te</tspan><tspan font-size="56" dy="17.5">4</tspan></text>
<text transform="translate(1085.3,1021.5) scale(1,1.0)">pristine Pt<tspan font-size="56" dy="17.5">3</tspan><tspan dy="-17.5">Te</tspan><tspan font-size="56" dy="17.5">4</tspan></text>
</g>
</g>
</g>
</svg>
</body></html>
